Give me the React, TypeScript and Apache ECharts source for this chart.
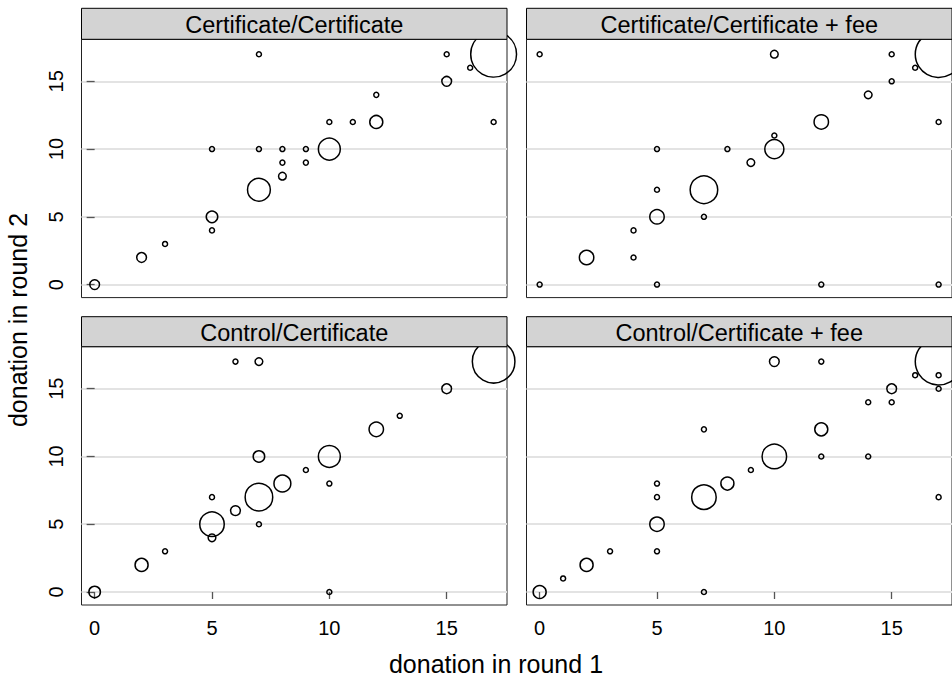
import React, { useEffect, useRef } from "react";
import * as echarts from "echarts";

const panelTitles = [
  "Certificate/Certificate",
  "Certificate/Certificate + fee",
  "Control/Certificate",
  "Control/Certificate + fee",
];
const tickValues = [0, 5, 10, 15];
const xTitle = "donation in round 1";
const yTitle = "donation in round 2";

// Certificate/Certificate
const ccX = [0, 2, 3, 5, 5, 5, 7, 7, 7, 8, 8, 8, 9, 9, 10, 10, 11, 12, 12, 15, 15, 16, 17, 17];
const ccY = [0, 2, 3, 5, 4, 10, 17, 7, 10, 10, 9, 8, 10, 9, 10, 12, 12, 12, 14, 17, 15, 16, 17, 12];
const ccN = [3, 3, 1, 4, 1, 1, 1, 14, 1, 1, 1, 2, 1, 1, 13, 1, 1, 5, 1, 1, 3, 1, 53, 1];

// Certificate/Certificate + fee
const cfX = [0, 0, 10, 15, 16, 17, 15, 14, 12, 17, 10, 10, 8, 9, 5, 5, 7, 5, 7, 4, 4, 2, 5, 12, 17];
const cfY = [17, 0, 17, 17, 16, 17, 15, 14, 12, 12, 11, 10, 10, 9, 10, 7, 7, 5, 5, 4, 2, 2, 0, 0, 0];
const cfN = [1, 1, 2, 1, 1, 55, 1, 2, 6, 1, 1, 10, 1, 2, 1, 1, 20, 6, 1, 1, 1, 6, 1, 1, 1];

// Control/Certificate
const kcX = [0, 2, 3, 5, 5, 5, 6, 6, 7, 7, 7, 7, 8, 9, 10, 10, 10, 12, 13, 15, 17];
const kcY = [0, 2, 3, 5, 4, 7, 6, 17, 17, 7, 10, 5, 8, 9, 10, 8, 0, 12, 13, 15, 17];
const kcN = [4, 5, 1, 16, 2, 1, 3, 1, 2, 20, 4, 1, 8, 1, 13, 1, 1, 6, 1, 3, 46];

// Control/Certificate + fee
const kfX = [0, 1, 2, 3, 5, 5, 5, 5, 7, 7, 7, 8, 9, 10, 10, 12, 12, 12, 14, 14, 15, 15, 16, 17, 17, 17, 17];
const kfY = [0, 1, 2, 3, 3, 5, 7, 8, 7, 12, 0, 8, 9, 10, 17, 17, 12, 10, 14, 10, 15, 14, 16, 16, 15, 7, 17];
const kfN = [5, 1, 5, 1, 1, 6, 1, 1, 16, 1, 1, 5, 1, 16, 3, 1, 5, 1, 1, 1, 3, 1, 1, 1, 1, 1, 55];

const panelsX = [ccX, cfX, kcX, kfX];
const panelsY = [ccY, cfY, kcY, kfY];
const panelsN = [ccN, cfN, kcN, kfN];

const FONT = "Liberation Sans, Arial, Helvetica, sans-serif";

export default function App() {
  const ref = useRef<HTMLDivElement>(null);
  useEffect(() => {
    if (!ref.current) return;
    const chart = echarts.init(ref.current, undefined, { renderer: "svg" });

    const colLeft = [81.5, 526.5];
    const panelW = 425.5;
    const rowTop = [39.3, 346.7];
    const panelH = 258.3;
    const stripTop = [8.3, 316.7];
    const stripH = [31, 30];

    const grids: any[] = [];
    const xAxes: any[] = [];
    const yAxes: any[] = [];
    const series: any[] = [];
    const elements: any[] = [];

    for (let i = 0; i < 4; i++) {
      const r = Math.floor(i / 2);
      const c = i % 2;
      const bottomRow = r === 1;
      const leftCol = c === 0;
      grids.push({
        left: colLeft[c],
        top: rowTop[r],
        width: panelW,
        height: panelH,
        show: true,
        borderColor: "#222",
        borderWidth: 1,
        backgroundColor: "transparent",
      });
      xAxes.push({
        gridIndex: i,
        type: "value",
        min: -0.56,
        max: 17.57,
        axisLine: { show: false },
        splitLine: { show: false },
        axisTick: {
          show: bottomRow,
          length: 7,
          customValues: tickValues,
          lineStyle: { color: "#555", width: 1.3 },
        },
        axisLabel: {
          show: bottomRow,
          customValues: tickValues,
          fontSize: 20,
          fontFamily: FONT,
          color: "#000",
          margin: 13,
        },
      });
      yAxes.push({
        gridIndex: i,
        type: "value",
        min: -0.96,
        max: 18.1,
        axisLine: { show: false },
        splitLine: { show: true, lineStyle: { color: "#e3e3e3", width: 2 } },
        axisTick: {
          show: leftCol,
          length: 8,
          customValues: tickValues,
          lineStyle: { color: "#555", width: 1.3 },
        },
        axisLabel: {
          show: leftCol,
          customValues: tickValues,
          rotate: 90,
          fontSize: 20,
          fontFamily: FONT,
          color: "#000",
          margin: 16,
        },
      });
      const xs = panelsX[i];
      const ys = panelsY[i];
      const ns = panelsN[i];
      series.push({
        type: "scatter",
        xAxisIndex: i,
        yAxisIndex: i,
        clip: false,
        silent: true,
        symbol: "circle",
        symbolSize: (v: number[]) => 6.5 * Math.sqrt(v[2]) - 1.5,
        itemStyle: { color: "transparent", borderColor: "#000", borderWidth: 1.5, opacity: 1 },
        emphasis: { disabled: true },
        data: xs.map((x, k) => [x, ys[k], ns[k]]),
      });
      elements.push({
        type: "rect",
        z: 100,
        shape: { x: colLeft[c], y: stripTop[r], width: panelW, height: stripH[r] },
        style: { fill: "#d3d3d3", stroke: "#000", lineWidth: 1 },
      });
      elements.push({
        type: "text",
        z: 101,
        x: colLeft[c] + panelW / 2,
        y: stripTop[r] + stripH[r] / 2 + 1,
        style: {
          text: panelTitles[i],
          fill: "#000",
          font: `23.5px ${FONT}`,
          textAlign: "center",
          textVerticalAlign: "middle",
        },
      });
    }

    elements.push({
      type: "text",
      z: 101,
      x: 496,
      y: 664,
      style: {
        text: xTitle,
        fill: "#000",
        font: `25px ${FONT}`,
        textAlign: "center",
        textVerticalAlign: "middle",
      },
    });
    elements.push({
      type: "text",
      z: 101,
      x: 18,
      y: 320,
      rotation: Math.PI / 2,
      style: {
        text: yTitle,
        fill: "#000",
        font: `25px ${FONT}`,
        textAlign: "center",
        textVerticalAlign: "middle",
      },
    });

    chart.setOption({
      animation: false,
      backgroundColor: "#fff",
      grid: grids,
      xAxis: xAxes,
      yAxis: yAxes,
      series,
      graphic: { elements },
    });
    return () => chart.dispose();
  }, []);
  return (
    <div
      ref={ref}
      style={{ position: "absolute", left: 0, top: 0, width: 952, height: 681 }}
    />
  );
}
